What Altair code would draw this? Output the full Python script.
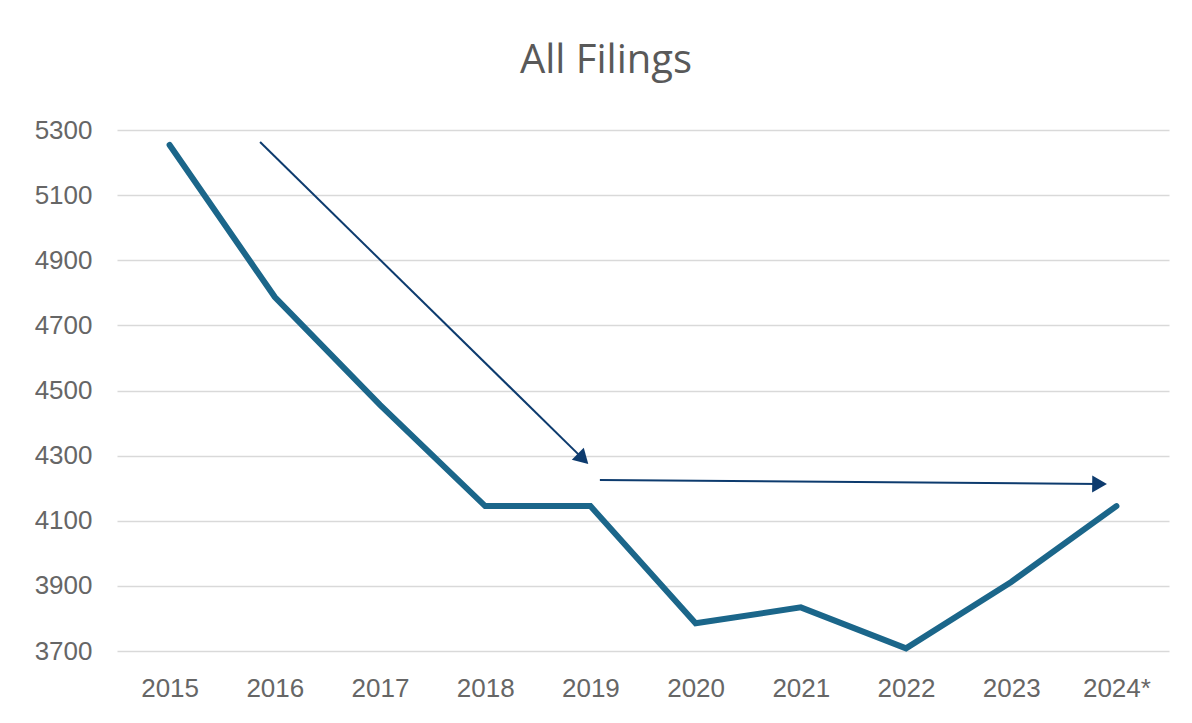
import altair as alt
import pandas as pd

years = ["2015", "2016", "2017", "2018", "2019", "2020", "2021", "2022", "2023", "2024*"]
filings = [5254, 4787, 4456, 4145, 4145, 3785, 3834, 3708, 3912, 4145]

# annotation arrows (x in year-index units, y in filing units)
arrow_x1 = [0.86, 4.09]
arrow_y1 = [5263, 4225]
arrow_x2 = [3.93, 8.84]
arrow_y2 = [4290, 4213]
arrow_angle = [44.6, 0.5]

df = pd.DataFrame({"idx": list(range(len(years))), "year": years, "filings": filings})
arrows = pd.DataFrame({"x1": arrow_x1, "y1": arrow_y1, "x2": arrow_x2, "y2": arrow_y2, "angle": arrow_angle})

label_expr = "[" + ",".join("'%s'" % y for y in years) + "][datum.value]"

xscale = alt.Scale(domain=[-0.5, 9.5], nice=False, zero=False)
yscale = alt.Scale(domain=[3700, 5300], nice=False, zero=False)

x_axis = alt.Axis(values=list(range(len(years))), labelExpr=label_expr, grid=False, ticks=False,
                  domain=False, labelFontSize=26, labelColor="#666666", labelPadding=24,
                  labelFont="Liberation Sans", title=None)
y_axis = alt.Axis(values=list(range(3700, 5301, 200)), format="d", grid=True, gridColor="#d9d9d9",
                  gridWidth=1.5, ticks=False, domain=False, labelFontSize=26, labelColor="#666666",
                  labelPadding=25, labelFont="Liberation Sans", title=None)

line = alt.Chart(df).mark_line(color="#1b668a", strokeWidth=6, strokeCap="round", strokeJoin="miter").encode(
    x=alt.X("idx:Q", scale=xscale, axis=x_axis),
    y=alt.Y("filings:Q", scale=yscale, axis=y_axis),
)

shafts = alt.Chart(arrows).mark_rule(color="#0d3b6e", strokeWidth=2).encode(
    x=alt.X("x1:Q", scale=xscale),
    y=alt.Y("y1:Q", scale=yscale),
    x2="x2:Q",
    y2="y2:Q",
)

heads = alt.Chart(arrows).mark_point(shape="triangle-right", filled=True, color="#0d3b6e", size=290, opacity=1).encode(
    x=alt.X("x2:Q", scale=xscale),
    y=alt.Y("y2:Q", scale=yscale),
    angle=alt.Angle("angle:Q", scale=None),
)

chart = alt.layer(shafts, heads, line).properties(
    width=1052,
    height=521,
    autosize=alt.AutoSizeParams(type="none"),
    padding={"left": 109, "top": 122, "right": 12, "bottom": 60},
    title=alt.TitleParams("All Filings", fontSize=40, font="Open Sans", fontWeight="normal",
                          color="#595959", anchor="middle", dx=-37, offset=36),
    background="white",
).configure_view(stroke=None)

chart.save("out.html", embed_options={"renderer": "svg", "actions": False})
